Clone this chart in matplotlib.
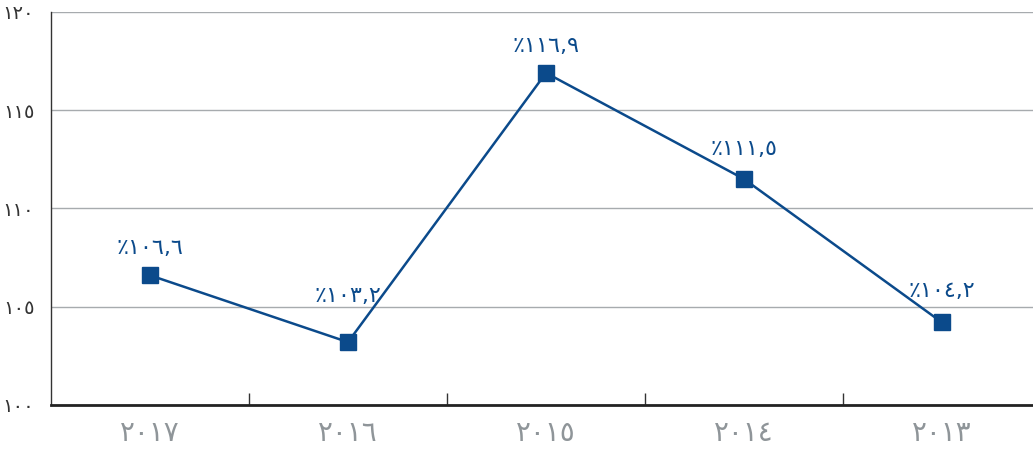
import matplotlib
matplotlib.use("Agg")
import matplotlib.pyplot as plt

years = ["٢٠١٧", "٢٠١٦", "٢٠١٥", "٢٠١٤", "٢٠١٣"]
values = [106.6, 103.2, 116.9, 111.5, 104.2]
value_labels = ["٪١٠٦,٦", "٪١٠٣,٢", "٪١١٦,٩", "٪١١١,٥", "٪١٠٤,٢"]
y_ticks = [100, 105, 110, 115, 120]
y_tick_labels = ["١٠٠", "١٠٥", "١١٠", "١١٥", "١٢٠"]

# label offsets above marker (pixels)
label_offsets_px = [27, 46, 27, 30, 31]

blue = "#0b4a8b"
W, H = 1033, 450
fig = plt.figure(figsize=(W / 100, H / 100), dpi=100)
left, right, top, bottom = 51, 1041, 12, 405
ax = fig.add_axes([left / W, 1 - bottom / H, (right - left) / W, (bottom - top) / H])

x = list(range(len(years)))
ax.plot(x, values, color=blue, lw=1.8, marker="s", ms=11, mfc=blue, mec=blue, zorder=3)
for xi, v, lab, off in zip(x, values, value_labels, label_offsets_px):
    ax.annotate(lab, (xi, v), xytext=(0, off * 0.72), textcoords="offset points",
                ha="center", va="center", color=blue, fontsize=16,
                family="DejaVu Sans")

ax.set_xlim(-0.5, len(years) - 0.5)
ax.set_ylim(100, 120)
ax.set_yticks(y_ticks)
ax.set_yticklabels(y_tick_labels, fontsize=14, color="#333333")
ax.yaxis.grid(True, color="#a7abae", lw=1)
ax.set_axisbelow(True)
ax.tick_params(axis="y", length=0, pad=12)

ax.set_xticks(x)
ax.set_xticklabels(years, fontsize=20, color="#8f9599")
ax.set_xticks([i + 0.5 for i in range(len(years) - 1)], minor=True)
ax.tick_params(axis="x", which="major", length=0, pad=10)
ax.tick_params(axis="x", which="minor", length=9, direction="in", color="#333333", width=1)

for s in ["top", "right"]:
    ax.spines[s].set_visible(False)
ax.spines["left"].set_color("#333333")
ax.spines["left"].set_linewidth(1)
ax.spines["bottom"].set_color("#222222")
ax.spines["bottom"].set_linewidth(2)

fig.savefig("out.png", dpi=100)
